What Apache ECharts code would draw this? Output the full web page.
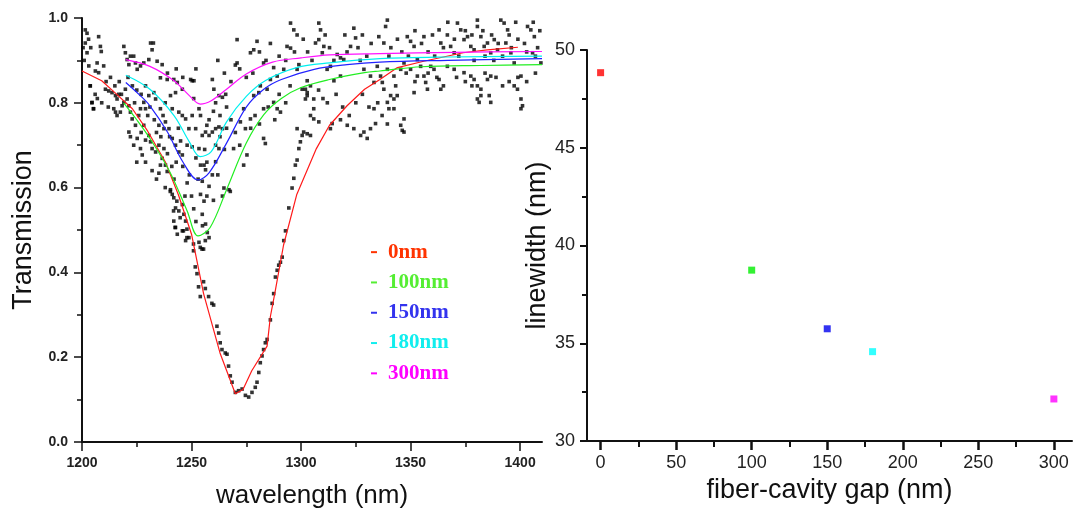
<!DOCTYPE html>
<html><head><meta charset="utf-8">
<script src="https://cdn.jsdelivr.net/npm/echarts@6/dist/echarts.min.js"></script>
<style>html,body{margin:0;padding:0;background:#fff}#c{width:1077px;height:514px}</style>
</head><body><div id="c"></div>
<script>
// ---- left panel: transmission fits ----
const gapLabels = ['0nm','100nm','150nm','180nm','300nm'];
const fit0_wl  = [1200,1209,1215,1223,1230,1238,1244,1250,1255.5,1263,1270,1273.5,1277.5,1284.5,1286,1288,1292,1298,1307,1313,1321,1329,1336,1344,1356,1374,1385,1399];
const fit0_T   = [0.875,0.852,0.824,0.786,0.733,0.661,0.583,0.49,0.35,0.21,0.114,0.124,0.168,0.226,0.296,0.35,0.464,0.583,0.692,0.747,0.793,0.832,0.855,0.883,0.898,0.918,0.925,0.931];
const fit100_wl = [1219,1225,1231,1240,1248,1253,1258.5,1266,1275,1283,1291,1300,1313,1329,1336,1355,1382,1410];
const fit100_T  = [0.80,0.76,0.716,0.638,0.545,0.486,0.506,0.595,0.705,0.772,0.81,0.836,0.855,0.871,0.875,0.885,0.888,0.89];
const fit150_wl = [1220,1226,1231,1239,1246,1253,1258,1266,1275,1283,1291,1306,1321,1336,1367,1410];
const fit150_T  = [0.848,0.82,0.793,0.731,0.661,0.618,0.635,0.705,0.79,0.832,0.855,0.879,0.89,0.896,0.90,0.904];
const fit180_wl = [1220,1231,1242,1249,1254,1259,1266,1275,1284,1298,1313,1336,1367,1410];
const fit180_T  = [0.865,0.832,0.77,0.708,0.673,0.685,0.755,0.815,0.853,0.883,0.894,0.904,0.908,0.91];
const fit300_wl = [1220,1231,1242,1249,1254,1259,1266,1275,1287,1300,1313,1336,1370,1410];
const fit300_T  = [0.902,0.886,0.852,0.817,0.797,0.805,0.832,0.868,0.896,0.906,0.913,0.916,0.919,0.921];

// measured transmission points [wavelength, T]
const measured = [
[1201.5,0.972],[1202.3,0.964],[1207.6,0.956],[1208.4,0.933],[1208.8,0.921],[1201.5,0.941],[1202.3,0.918],[1203.1,0.887],[1206.9,0.894],[1209.9,0.887],
[1206.1,0.875],[1207.6,0.871],[1203.8,0.840],[1204.6,0.801],[1205.3,0.786],[1210.7,0.832],[1212.2,0.828],[1213.7,0.824],[1215.3,0.817],[1216,0.809],
[1216.8,0.82],[1214.5,0.786],[1215.3,0.778],[1216,0.77],[1217.5,0.778],[1218.3,0.793],[1219.1,0.801],[1219.1,0.933],[1219.8,0.918],[1220.6,0.902],
[1221.4,0.89],[1222.1,0.91],[1223.6,0.91],[1224.4,0.894],[1225.2,0.879],[1226.7,0.887],[1228.2,0.894],[1231.3,0.941],[1232,0.925],[1230.5,0.902],
[1234.3,0.898],[1236.6,0.89],[1235.8,0.859],[1238.9,0.855],[1241.9,0.855],[1243.5,0.848],[1240.4,0.817],[1242.7,0.824],[1245.8,0.832],[1249.6,0.855],
[1250.3,0.852],[1251.1,0.852],[1259.5,0.855],[1260.2,0.832],[1262.5,0.817],[1264.1,0.813],[1265.6,0.82],[1253.4,0.786],[1254.1,0.77],[1245.8,0.77],
[1247.3,0.762],[1250.3,0.77],[1248.8,0.739],[1251.9,0.739],[1254.9,0.723],[1256.4,0.731],[1258,0.723],[1259.5,0.731],[1261,0.739],[1262.5,0.743],
[1264.1,0.739],[1261,0.70],[1262.5,0.692],[1250.3,0.696],[1253.4,0.692],[1254.1,0.653],[1255.7,0.653],[1256.4,0.642],[1254.9,0.615],[1258,0.603],
[1259.5,0.63],[1261,0.661],[1248,0.611],[1254.1,0.584],[1255.7,0.568],[1264.8,0.599],[1267.1,0.595],[1264.1,0.58],[1254.9,0.537],[1256.4,0.514],
[1257.2,0.494],[1258,0.482],[1253.4,0.471],[1219.8,0.832],[1220.6,0.809],[1221.4,0.793],[1222.1,0.778],[1222.9,0.762],[1224.4,0.747],[1221.4,0.731],
[1222.1,0.72],[1225.9,0.77],[1226.7,0.786],[1228.2,0.801],[1229,0.786],[1230.5,0.817],[1232.8,0.824],[1233.6,0.809],[1235.8,0.786],[1228.2,0.747],
[1230.5,0.723],[1231.3,0.708],[1232,0.692],[1226.7,0.692],[1227.5,0.677],[1233.6,0.684],[1235.1,0.70],[1237.4,0.692],[1236.6,0.669],[1238.1,0.653],
[1238.9,0.638],[1235.8,0.653],[1235.1,0.634],[1240.4,0.595],[1241.2,0.584],[1241.9,0.576],[1242.7,0.552],[1244.2,0.545],[1245.8,0.56],[1246.5,0.537],
[1247.3,0.521],[1241.9,0.521],[1242.7,0.506],[1243.5,0.49],[1245.8,0.498],[1248.8,0.482],[1247.3,0.475],[1238.1,0.755],[1239.7,0.739],[1241.2,0.716],
[1242.7,0.70],[1244.2,0.684],[1245.8,0.677],[1241.2,0.786],[1244.2,0.778],[1235.1,0.747],[1237.4,0.739],[1223.6,0.70],[1225.2,0.716],[1229,0.712],
[1203.7,0.84],[1205.2,0.786],[1204.5,0.80],[1232.6,0.941],[1257,0.747],[1240.3,0.591],[1243.3,0.568],[1241.8,0.545],[1244.8,0.529],[1242.5,0.506],
[1246.3,0.498],[1247.9,0.482],[1250.9,0.467],[1254,0.459],[1255.5,0.455],
[1247.9,0.502],[1250.9,0.451],[1254.8,0.455],[1256.3,0.475],[1251.7,0.413],[1252.5,0.397],[1253.2,0.366],[1254,0.343],[1255.5,0.378],[1256.3,0.362],
[1257.8,0.343],[1259.3,0.327],[1260.1,0.323],[1261.6,0.273],[1262.4,0.257],[1263.1,0.234],[1263.9,0.218],[1265.4,0.21],[1266.2,0.207],[1266.9,0.179],
[1267.7,0.156],[1268.5,0.141],[1270,0.117],[1271.5,0.121],[1273.1,0.125],[1274.6,0.11],[1276.1,0.106],[1277.6,0.117],[1279.1,0.129],[1279.9,0.141],
[1280.7,0.164],[1281.4,0.187],[1282.2,0.203],[1282.9,0.218],[1283.7,0.234],[1284.5,0.242],[1286,0.288],[1286.8,0.327],[1287.5,0.35],[1288.3,0.389],
[1289.1,0.405],[1289.8,0.417],[1290.6,0.424],[1291.4,0.436],[1292.9,0.498],
[1292.1,0.475],[1294.4,0.552],[1295.9,0.599],[1296.7,0.622],[1297.4,0.653],[1298.2,0.665],[1299,0.692],[1299.7,0.708],[1300.5,0.723],[1301.2,0.731],
[1302.8,0.727],[1304.3,0.723],[1304.3,0.77],[1305.8,0.762],[1308.1,0.755],[1305.8,0.786],[1302.8,0.824],[1302,0.809],[1300.5,0.832],[1302.8,0.852],
[1313.4,0.739],[1314.2,0.751],[1321.1,0.747],[1324.1,0.739],[1328.7,0.731],[1330.2,0.716],[1327.2,0.723],[1331.7,0.739],[1334,0.751],[1333.3,0.786],
[1270.8,0.949],[1270.8,0.894],[1270,0.889],[1276.9,0.918],[1279.9,0.945],[1278.4,0.925],[1282.9,0.894],[1287.5,0.883],[1295.2,0.988],[1296.7,0.972],
[1298.2,0.96],[1293.6,0.933],[1295.2,0.929],[1308.1,0.988],[1308.9,0.972],[1308.1,0.949],[1310.4,0.933],[1306.6,0.941],[1309.7,0.918],[1324.1,0.976],
[1324.9,0.953],[1322.6,0.933],[1318,0.906],[1316.5,0.914],[1319.5,0.902],[1313.4,0.886],[1311.9,0.879],[1318,0.863],[1315,0.852],[1298.2,0.879],
[1292.1,0.879],[1289.1,0.863],[1286,0.855],[1284.5,0.832],[1281.4,0.84],[1280.7,0.824],[1278.4,0.817],[1287.5,0.801],[1289.1,0.786],[1290.6,0.778],
[1282.9,0.786],[1276.9,0.762],[1273.8,0.786],[1272.3,0.755],[1274.6,0.739],[1282.9,0.716],[1283.7,0.704],[1298.2,0.739],[1275.3,0.677],[1273.8,0.653],
[1269.2,0.692],[1267.7,0.591],[1302,0.832],[1304.3,0.84],[1302.8,0.817],[1305.8,0.809],[1331.7,0.863],[1333.3,0.848],[1328.7,0.879],[1334.8,0.886],
[1335.5,0.956],
[1339.4,0.995],[1338.6,0.98],[1337.8,0.941],[1340.1,0.91],[1339.4,0.879],[1342.4,0.863],[1343.2,0.84],[1340.9,0.817],[1339.4,0.801],[1342.4,0.809],
[1343.9,0.817],[1340.1,0.786],[1342.4,0.786],[1347,0.762],[1345.5,0.747],[1347,0.731],[1348.5,0.956],[1350,0.945],[1351.6,0.933],[1353.1,0.902],
[1350,0.879],[1356.1,0.956],[1356.1,0.863],[1356.9,0.848],[1357.7,0.832],[1363,0.855],[1363.8,0.832],[1363,0.972],[1363.8,0.941],[1366.8,0.96],
[1368.3,0.933],[1369.9,0.918],[1371.4,0.988],[1372.9,0.972],[1374.4,0.949],[1376,0.956],[1377.5,0.933],[1379,0.925],[1380.5,0.98],[1380.5,0.995],
[1382.1,0.956],[1383.6,0.933],[1385.1,0.941],[1386.6,0.918],[1388.2,0.949],[1389.7,0.925],[1391.2,0.995],[1392.7,0.988],[1394.3,0.972],[1393.5,0.941],
[1395.8,0.918],[1397.3,0.894],[1400.4,0.863],[1397.3,0.84],[1398.8,0.832],[1400.4,0.809],[1401.1,0.793],[1400.4,0.786],[1403.4,0.98],[1404.9,0.972],
[1406.5,0.956],[1405.7,0.918],[1409.5,0.894],[1410.3,0.855],[1410.3,0.824],[1377.5,0.863],[1379,0.855],[1380.5,0.84],[1382.1,0.832],[1385.1,0.855],
[1386.6,0.863],[1374.4,0.871],[1369.9,0.879],[1366.8,0.886],[1380.5,0.809],[1382.1,0.817],[1385.9,0.817],[1386.6,0.801],[1381.3,0.801],[1359.2,0.886],
[1360.7,0.879],[1351.6,0.824],[1353.1,0.863],[1354.6,0.886],[1345.5,0.879],[1347,0.894],[1336.3,0.863],[1337.8,0.832],[1337.1,0.848],[1339.4,0.75],
[1346.2,0.735],
[1341,0.93],[1344,0.95],[1346,0.92],[1349,0.91],[1352,0.97],[1355,0.94],[1358,0.92],[1360,0.96],[1361,0.91],[1365,0.93],
[1367,0.99],[1370,0.95],[1372,0.91],[1375,0.97],[1378,0.96],[1379,0.90],[1383,0.97],[1384,0.91],[1387,0.96],[1388,0.90],
[1390,0.94],[1392,0.91],[1395,0.96],[1396,0.93],[1398,0.99],[1399,0.95],[1402,0.94],[1403,0.92],[1406,0.99],[1408,0.93],
[1409,0.97],[1407,0.91],
[1348,0.87],[1352,0.85],[1358,0.87],[1362,0.86],[1365,0.84],[1371,0.86],[1375,0.85],[1378,0.84],[1384,0.87],[1389,0.86],
[1392,0.84],[1395,0.85],[1399,0.86],[1403,0.85],[1407,0.87],
[1301,0.95],[1303,0.92],[1305,0.90],[1311,0.96],[1313,0.93],[1315,0.90],[1320,0.96],[1321,0.92],[1326,0.93],[1328,0.96],
[1330,0.91],[1332,0.94],[1327,0.90],
[1308,0.83],[1310,0.81],[1312,0.80],[1316,0.82],[1319,0.79],[1322,0.77],[1325,0.80],[1328,0.82],[1331,0.79],[1335,0.80],
[1337,0.77],[1318,0.76],
[1262,0.90],[1265,0.87],[1268,0.85],[1272,0.88],[1275,0.86],[1278,0.87],[1281,0.92],[1284,0.90],[1286,0.94],[1290,0.91],
[1293,0.90],[1297,0.92],[1299,0.89],
[1263,0.77],[1266,0.79],[1268,0.76],[1270,0.73],[1272,0.70],[1277,0.74],[1279,0.77],[1281,0.75],[1285,0.79],[1288,0.76],
[1290,0.82],[1293,0.80],[1295,0.84],
[1200.5,0.93],[1201,0.90],[1203,0.95],[1204,0.93],[1206,0.82],[1207,0.81],[1209,0.80],[1211,0.85],[1213,0.86],[1215,0.84],
[1217,0.85],[1218,0.82],[1212,0.79],
[1221,0.86],[1223,0.84],[1224,0.80],[1225,0.83],[1227,0.82],[1229,0.84],[1230,0.77],[1231,0.79],[1233,0.76],[1234,0.73],
[1236,0.72],[1237,0.77],[1238,0.80],[1239,0.68],[1240,0.72],[1241,0.65],[1242,0.62],[1243,0.66],[1244,0.74],[1245,0.71],
[1246,0.65],[1247,0.58],[1248,0.70],[1249,0.63],[1250,0.58],[1251,0.81],[1252,0.88],[1246,0.86],[1243,0.88],[1239,0.87],
[1227,0.73],[1225,0.66],[1229,0.66],[1232,0.64],[1238,0.60],[1234,0.62],
[1252,0.67],[1253,0.62],[1256,0.69],[1257,0.66],[1258,0.76],[1260,0.78],[1261,0.80],[1263,0.72],[1265,0.69],[1266,0.74],
[1257,0.58],[1255,0.51],[1252,0.52],[1251,0.55],[1260,0.57],[1262,0.63]
];

// ---- right panel: linewidth vs gap ----
const gap = [0, 100, 150, 180, 300];
const linewidth = [48.84, 38.74, 35.74, 34.57, 32.15];

// tick values
const wlMajor = [1200,1250,1300,1350,1400];
const wlMinor = [1225,1275,1325,1375];
const gapMajor = [0,50,100,150,200,250,300];
const gapMinor = [25,75,125,175,225,275];

const lineColors = ['#ff1a1a','#22ee22','#2222ff','#00f0f0','#ff11ff'];
const textColors = ['#ff3300','#55ee33','#3333ee','#11eeee','#ff00ff'];
const pointColors = ['#ff0000','#00ee00','#0000ee','#00ffff','#ff00ff'];

const FONT = 'Liberation Sans, Arial, sans-serif';
const chart = echarts.init(document.getElementById('c'), null, {renderer:'canvas'});

function mainAxis(o){
  return Object.assign({
    type:'value', nameLocation:'middle',
    axisLine:{show:true, onZero:false, lineStyle:{color:'#111', width:2}},
    splitLine:{show:false}, minorSplitLine:{show:false}
  }, o);
}
function minorAxis(o, vals, len, w){
  return Object.assign({
    type:'value', offset:0, axisLine:{show:false, onZero:false}, axisLabel:{show:false}, splitLine:{show:false},
    axisTick:{show:true, length:len, customValues:vals, lineStyle:{color:'#111', width:w||1.5}}
  }, o);
}

const fits = [[fit0_wl,fit0_T],[fit100_wl,fit100_T],[fit150_wl,fit150_T],[fit180_wl,fit180_T],[fit300_wl,fit300_T]];
const series = [{
  type:'scatter', xAxisIndex:0, yAxisIndex:0, data: measured, symbol:'rect', symbolSize:3.6,
  itemStyle:{color:'#000'}, z:2, silent:true
}];
fits.forEach((f,i)=>{
  series.push({
    type:'line', name: gapLabels[i], xAxisIndex:0, yAxisIndex:0, showSymbol:false, symbol:'none',
    smooth: i===0 ? false : 0.35, z:3,
    data: f[0].map((w,k)=>[w, f[1][k]]),
    lineStyle:{color:lineColors[i], width:1.2}, itemStyle:{color:textColors[i]}
  });
});
gap.forEach((g,i)=>{
  series.push({
    type:'scatter', xAxisIndex:2, yAxisIndex:1, data:[[g, linewidth[i]]], symbol:'rect', symbolSize:7,
    itemStyle:{color:pointColors[i]}
  });
});

chart.setOption({
  animation:false,
  backgroundColor:'#fff',
  grid:[
    {left:82, top:18, width:460, height:429},
    {left:587, top:50, width:485, height:391}
  ],
  legend:{
    orient:'vertical', left:366, top:236, itemWidth:6, itemHeight:2, itemGap:8, icon:'rect',
    selectedMode:false,
    data: gapLabels.map((n,i)=>({name:n, itemStyle:{color:textColors[i]},
      textStyle:{color:textColors[i], fontFamily:'Liberation Serif, Times New Roman, serif', fontWeight:'bold', fontSize:21, lineHeight:22.3, padding:[0,0,0,6]}}))
  },
  xAxis:[
    mainAxis({gridIndex:0, position:'bottom', min:1200, max:1410, name:'wavelength (nm)', nameGap:41,
      nameTextStyle:{fontFamily:FONT, fontSize:26, color:'#111'},
      axisTick:{show:true, length:9, customValues:wlMajor, lineStyle:{color:'#111', width:1.5}},
      axisLabel:{customValues:wlMajor, margin:14, fontFamily:FONT, fontWeight:'bold', fontSize:14, color:'#222', formatter:v=>String(v)}}),
    minorAxis({gridIndex:0, position:'bottom', min:1200, max:1410}, wlMinor, 5),
    mainAxis({gridIndex:1, position:'bottom', min:-9, max:312, name:'fiber-cavity gap (nm)', nameGap:36,
      nameTextStyle:{fontFamily:FONT, fontSize:27, color:'#111'},
      axisTick:{show:true, length:9, customValues:gapMajor, lineStyle:{color:'#111', width:2.5}},
      axisLabel:{customValues:gapMajor, margin:13, fontFamily:FONT, fontSize:18, color:'#222', formatter:v=>String(v)}}),
    minorAxis({gridIndex:1, position:'bottom', min:-9, max:312}, gapMinor, 6, 2)
  ],
  yAxis:[
    mainAxis({gridIndex:0, position:'left', min:0, max:1.0, interval:0.2, name:'Transmission', nameGap:45,
      nameTextStyle:{fontFamily:FONT, fontSize:27, color:'#111'},
      axisTick:{show:true, length:8, lineStyle:{color:'#111', width:1.5}},
      minorTick:{show:true, splitNumber:2, length:5, lineStyle:{color:'#111', width:1.5}},
      axisLabel:{margin:14, fontFamily:FONT, fontWeight:'bold', fontSize:14, color:'#222',
        formatter:v=>v.toFixed(1)}}),
    mainAxis({gridIndex:1, position:'left', min:30, max:50, interval:5, name:'linewidth (nm)', nameGap:35,
      nameTextStyle:{fontFamily:FONT, fontSize:27, color:'#111'},
      axisTick:{show:true, length:7, lineStyle:{color:'#111', width:2}},
      minorTick:{show:true, splitNumber:2, length:5, lineStyle:{color:'#111', width:2}},
      axisLabel:{margin:12, fontFamily:FONT, fontSize:18, color:'#222', formatter:v=>String(v)}})
  ],
  series: series
});
</script></body></html>
